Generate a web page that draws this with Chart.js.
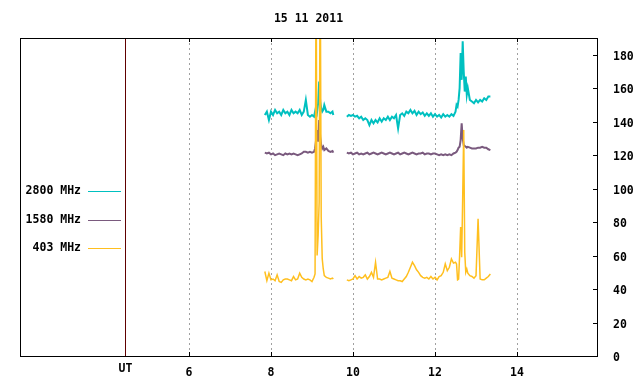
<!DOCTYPE html>
<html>
<head>
<meta charset="utf-8">
<script src="https://cdn.jsdelivr.net/npm/chart.js@4/dist/chart.umd.min.js"></script>
<style>
  html, body { margin: 0; padding: 0; background: #fff; }
</style>
</head>
<body>
<canvas id="myChart" width="640" height="384"></canvas>
<script>
var title = '15 11 2011';
var seriesNames = ['2800 MHz', '1580 MHz', '403 MHz'];
var seriesColors = ['#00c0c0', '#7a5a7e', '#ffbf1f'];
var xTicks = [6, 8, 10, 12, 14];
var yTicks = [0, 20, 40, 60, 80, 100, 120, 140, 160, 180];
var utHour = 4.45;
var gapHour = 9.68;

// first block of observations (hours UT)
var hours1 = [7.85, 7.90, 7.95, 8.00, 8.05, 8.10, 8.15, 8.20, 8.25, 8.30,
              8.35, 8.40, 8.45, 8.50, 8.55, 8.60, 8.65, 8.70, 8.75, 8.80,
              8.85, 8.90, 8.95, 9.00, 9.05, 9.075, 9.10, 9.125, 9.15, 9.175,
              9.20, 9.225, 9.25, 9.275, 9.30, 9.35, 9.40, 9.45, 9.50, 9.52];
var cyan1 = [144, 146, 141, 146, 144, 147, 145, 146, 144, 147,
             145, 146, 144, 147, 145, 146, 145, 147, 144, 146,
             153, 144, 143, 144, 143, 146, 149, 146, 151, 164,
             152, 148, 146, 147, 150, 146, 146, 145, 146, 144];
var purple1 = [121.5, 121, 121.5, 120.5, 121, 120, 120.5, 121, 120.5, 120,
               121, 120.5, 121, 120.5, 121, 120.5, 120, 120.5, 121, 122,
               122, 121.5, 122, 121.5, 122, 124, 129, 135, 128, 141,
               131, 126, 124, 125, 123, 124, 122.5, 122, 122.5, 121.5];
var yellow1 = [50.5, 45, 49.5, 45.5, 46, 45, 48.5, 44.5, 44, 45.5,
               46, 46, 45.5, 45, 47.5, 45.5, 46, 49.5, 47, 46,
               45.5, 46, 45.5, 44.5, 47, 49, 240, 60, 72, 92,
               240, 83, 58, 52, 48, 47, 46.5, 46, 46.5, 46];

// second block of observations
var hours2 = [9.85, 9.90, 9.95, 10.00, 10.05, 10.10, 10.15, 10.20, 10.25, 10.30,
              10.35, 10.40, 10.45, 10.50, 10.55, 10.60, 10.65, 10.70, 10.75, 10.80,
              10.85, 10.90, 10.95, 11.00, 11.05, 11.10, 11.15, 11.20, 11.25, 11.30,
              11.35, 11.40, 11.45, 11.50, 11.55, 11.60, 11.65, 11.70, 11.75, 11.80,
              11.85, 11.90, 11.95, 12.00, 12.05, 12.10, 12.15, 12.20, 12.25, 12.30,
              12.35, 12.40, 12.45, 12.50,
              12.525, 12.55, 12.575, 12.60, 12.625, 12.65, 12.675, 12.70, 12.725, 12.75, 12.775, 12.80,
              12.85, 12.90, 12.95, 13.00, 13.05, 13.10, 13.15, 13.20, 13.25, 13.30, 13.35];
var cyan2 = [143, 144, 143.5, 144, 143, 143.5, 142, 143, 141, 142,
             141, 138, 141, 139, 141, 139.5, 142, 140, 142, 141,
             143, 141, 143, 142, 144, 136, 144, 145, 143.5, 146,
             145, 147, 145, 146.5, 144, 146, 144.5, 145.5, 143.5, 145,
             143.5, 145, 143, 144.5, 143, 144, 142.5, 144.5, 143, 144,
             143, 144.5, 143.5, 146,
             150, 149, 153, 160, 181, 165, 188, 170, 158, 167, 156, 160,
             153, 152, 151, 153, 151.5, 153, 152, 154, 153, 155, 155];
var purple2 = [121.5, 121, 121.5, 120.5, 121, 121.5, 120.5, 121, 120.5, 121,
               121.5, 120.5, 121, 121.5, 121, 120.5, 121, 121.5, 121, 120.5,
               121, 121.5, 121, 120.5, 121, 121.5, 120.5, 121, 121.5, 121,
               120.5, 121, 121.5, 121, 120.5, 121, 121, 121.5, 120.5, 121,
               121, 120.5, 121, 121, 120.5, 120, 120.5, 120, 120.5, 120,
               120.5, 120, 121, 121.5,
               122, 123, 124.5, 125, 129, 139, 130, 126, 125.5, 125, 124.5, 125,
               124.5, 124, 124, 124, 124.5, 124.5, 125, 124.5, 124.5, 123.5, 123];
var yellow2 = [45.5, 45, 45.5, 46, 48, 46, 47.5, 46.5, 47, 48.5,
               46, 47.5, 50, 47, 56, 46, 46, 45.5, 46, 46.5,
               47, 50.5, 46.5, 46, 45.5, 45, 45, 44.5, 46, 47.5,
               50, 53, 56, 54, 51.5, 50, 48, 47, 46.5, 47,
               46, 47.5, 46, 47, 45.5, 47.5, 48, 50, 55, 51,
               53, 58, 55.5, 56,
               55, 45.5, 46, 60, 77, 59, 95, 135, 62, 50, 52, 49.5,
               48, 47.5, 46.5, 48, 82, 46, 45.5, 45.5, 46.5, 47.5, 49];

var FONT = { family: '"DejaVu Sans Mono", monospace', size: 11.5, weight: 'bold' };
var fontStr = 'bold 11.5px "DejaVu Sans Mono", monospace';

function toPoints(v1, v2) {
    var pts = hours1.map(function (h, i) { return { x: h, y: v1[i] }; });
    pts.push({ x: gapHour, y: null });
    return pts.concat(hours2.map(function (h, i) { return { x: h, y: v2[i] }; }));
}

var framePlugin = {
    id: 'frame',
    beforeDatasetsDraw: function (chart) {
        var ctx = chart.ctx, a = chart.chartArea, xs = chart.scales.x;
        ctx.save();
        ctx.lineWidth = 1;
        ctx.strokeStyle = '#a0a0a0';
        ctx.setLineDash([2, 3]);
        xTicks.forEach(function (v) {
            var px = Math.round(xs.getPixelForValue(v)) + 0.5;
            ctx.beginPath();
            ctx.moveTo(px, a.top);
            ctx.lineTo(px, a.bottom);
            ctx.stroke();
        });
        ctx.setLineDash([]);
        ctx.strokeStyle = '#600000';
        var ux = Math.round(xs.getPixelForValue(utHour)) + 0.5;
        ctx.beginPath();
        ctx.moveTo(ux, a.top);
        ctx.lineTo(ux, a.bottom);
        ctx.stroke();
        ctx.restore();
    },
    afterDraw: function (chart) {
        var ctx = chart.ctx, a = chart.chartArea, xs = chart.scales.x, ys = chart.scales.y;
        ctx.save();
        ctx.lineWidth = 1;
        ctx.strokeStyle = '#000';
        ctx.strokeRect(Math.round(a.left) + 0.5, Math.round(a.top) + 0.5,
                       Math.round(a.right - a.left), Math.round(a.bottom - a.top));
        ctx.beginPath();
        xTicks.forEach(function (v) {
            var px = Math.round(xs.getPixelForValue(v)) + 0.5;
            ctx.moveTo(px, a.bottom); ctx.lineTo(px, a.bottom - 4);
            ctx.moveTo(px, a.top); ctx.lineTo(px, a.top + 4);
        });
        yTicks.forEach(function (v) {
            var py = Math.round(ys.getPixelForValue(v)) + 0.5;
            ctx.moveTo(a.right, py); ctx.lineTo(a.right - 4, py);
        });
        ctx.stroke();

        ctx.fillStyle = '#000';
        ctx.font = fontStr;
        ctx.textAlign = 'center';
        ctx.textBaseline = 'middle';
        ctx.fillText(title, (a.left + a.right) / 2, 19);
        ctx.fillText('UT', xs.getPixelForValue(utHour), 369);

        // legend in the left margin
        seriesNames.forEach(function (name, i) {
            var y = 191 + i * 28.7;
            ctx.textAlign = 'right';
            ctx.fillStyle = '#000';
            ctx.fillText(name, 81, y);
            ctx.strokeStyle = seriesColors[i];
            ctx.beginPath();
            ctx.moveTo(88, Math.round(y) + 0.5);
            ctx.lineTo(121, Math.round(y) + 0.5);
            ctx.stroke();
        });
        ctx.restore();
    }
};

var ctx = document.getElementById('myChart').getContext('2d');
var chart = new Chart(ctx, {
    type: 'line',
    data: {
        datasets: [
            { label: seriesNames[2], data: toPoints(yellow1, yellow2), borderColor: seriesColors[2], borderWidth: 1.5, order: 1 },
            { label: seriesNames[1], data: toPoints(purple1, purple2), borderColor: seriesColors[1], borderWidth: 2, order: 2 },
            { label: seriesNames[0], data: toPoints(cyan1, cyan2), borderColor: seriesColors[0], borderWidth: 2, order: 3 }
        ]
    },
    options: {
        responsive: false,
        animation: false,
        devicePixelRatio: 1,
        spanGaps: false,
        elements: {
            line: { borderWidth: 1, tension: 0 },
            point: { radius: 0 }
        },
        layout: { padding: { left: 20, top: 38, right: 0, bottom: 0 } },
        plugins: {
            legend: { display: false },
            tooltip: { enabled: false }
        },
        scales: {
            x: {
                type: 'linear',
                min: 1.88,
                max: 15.95,
                afterBuildTicks: function (s) { s.ticks = xTicks.map(function (v) { return { value: v }; }); },
                afterFit: function (s) { s.height = 28; },
                ticks: { font: FONT, color: '#000', padding: 2, maxRotation: 0, autoSkip: false },
                grid: { display: false },
                border: { display: false }
            },
            y: {
                position: 'right',
                min: 0,
                max: 190,
                afterBuildTicks: function (s) { s.ticks = yTicks.map(function (v) { return { value: v }; }); },
                afterFit: function (s) { s.width = 43; },
                ticks: { font: FONT, color: '#000', padding: 8, labelOffset: 2 },
                grid: { display: false },
                border: { display: false }
            }
        }
    },
    plugins: [framePlugin]
});
</script>
</body>
</html>
